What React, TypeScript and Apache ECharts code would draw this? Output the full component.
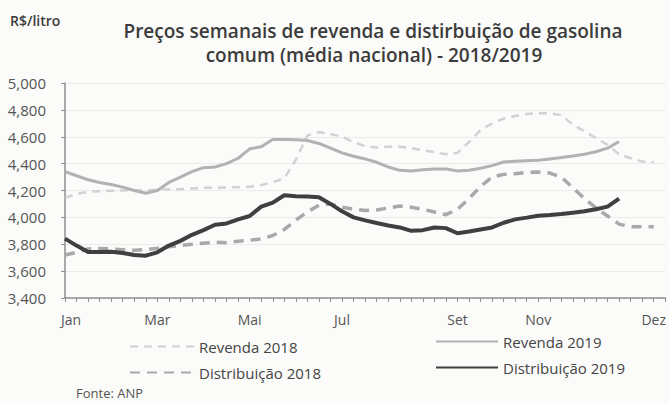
import React, { useEffect, useRef } from "react";
import * as echarts from "echarts";

const weeks = [
  "1", "2", "3", "4", "5", "6", "7", "8", "9", "10", "11", "12", "13", "14", "15", "16", "17", "18",
  "19", "20", "21", "22", "23", "24", "25", "26", "27", "28", "29", "30", "31", "32", "33", "34", "35",
  "36", "37", "38", "39", "40", "41", "42", "43", "44", "45", "46", "47", "48", "49", "50", "51", "52", "53",
];
const monthIndex = [0, 8, 16, 24, 34, 41, 51];
const monthNames = ["Jan", "Mar", "Mai", "Jul", "Set", "Nov", "Dez"];

const revenda2018 = [
  4145, 4175, 4190, 4195, 4198, 4200, 4202, 4202, 4205, 4210, 4210, 4215, 4220, 4220, 4222, 4225,
  4228, 4240, 4262, 4290, 4430, 4610, 4635, 4620, 4600, 4560, 4530, 4520, 4525, 4525, 4515, 4500,
  4485, 4470, 4480, 4560, 4650, 4700, 4735, 4755, 4770, 4775, 4775, 4760, 4690, 4640, 4590, 4540,
  4470, 4440, 4415, 4410,
];
const distribuicao2018 = [
  3720, 3740, 3765, 3768, 3765, 3760, 3755, 3760, 3770, 3782, 3790, 3800, 3808, 3815, 3812, 3822,
  3830, 3840, 3865, 3910, 3980, 4040, 4090, 4100, 4075, 4060, 4052, 4055, 4070, 4085, 4075, 4060,
  4040, 4020, 4060, 4140, 4230, 4300, 4320, 4325, 4335, 4338, 4330, 4300, 4220, 4140, 4070, 4010,
  3950, 3930, 3930, 3930,
];
const revenda2019 = [
  4340, 4310, 4280, 4260, 4245, 4225, 4200, 4180, 4200, 4260, 4300, 4340, 4370, 4375, 4400, 4440,
  4510, 4525, 4580, 4580, 4578, 4572, 4550, 4515, 4480, 4455, 4435, 4410, 4375, 4350, 4345, 4355,
  4360, 4360, 4346, 4350, 4365, 4385, 4412, 4418, 4422, 4425, 4435, 4445, 4456, 4470, 4488, 4515,
  4565,
];
const distribuicao2019 = [
  3842, 3790, 3742, 3742, 3745, 3735, 3720, 3715, 3740, 3790, 3825, 3870, 3905, 3945, 3955, 3985,
  4010, 4080, 4110, 4165, 4158, 4155, 4150, 4100, 4045, 4000, 3978, 3958, 3940, 3925, 3900, 3905,
  3925, 3920, 3882, 3895, 3910, 3925, 3960, 3985, 3998, 4012, 4018, 4025, 4035, 4045, 4060, 4080,
  4140,
];

const FONT = "'Open Sans', 'Noto Sans', sans-serif";
const titleLine1 = "Preços semanais de revenda e distirbuição de gasolina";
const titleLine2 = "comum (média nacional) - 2018/2019";

export default function App() {
  const ref = useRef<HTMLDivElement>(null);

  useEffect(() => {
    if (!ref.current) return;
    const chart = echarts.init(ref.current, undefined, { renderer: "svg" });
    const legendBase = {
      orient: "vertical",
      itemHeight: 14,
      itemGap: 11,
      itemStyle: { opacity: 0 },
      textStyle: { fontFamily: FONT, fontSize: 15, color: "#444" },
    };
    const titleStyle = {
      fontFamily: FONT,
      fontSize: 19,
      fontWeight: 600,
      color: "#3b3b3b",
      lineHeight: 22,
    };
    chart.setOption({
      animation: false,
      backgroundColor: "#fbfbf9",
      textStyle: { fontFamily: FONT },
      title: [
        { text: titleLine1, left: 373, top: 20, textAlign: "center", padding: 0, textStyle: titleStyle },
        { text: titleLine2, left: 374, top: 44, textAlign: "center", padding: 0, textStyle: titleStyle },
        {
          text: "R$/litro",
          left: 5,
          top: 8,
          textStyle: { fontFamily: FONT, fontSize: 14, fontWeight: 600, color: "#3b3b3b" },
        },
        {
          text: "Fonte: ANP",
          left: 71,
          top: 381,
          textStyle: { fontFamily: FONT, fontSize: 13, fontWeight: 400, color: "#555" },
        },
      ],
      legend: [
        {
          ...legendBase,
          data: ["Revenda 2018", "Distribuição 2018"],
          left: 124,
          top: 334,
          itemWidth: 64,
        },
        {
          ...legendBase,
          data: ["Revenda 2019", "Distribuição 2019"],
          left: 430,
          top: 329,
          itemWidth: 62,
        },
      ],
      grid: { left: 65, right: 2, top: 83, bottom: 105 },
      xAxis: {
        type: "category",
        data: weeks,
        boundaryGap: false,
        axisLine: { lineStyle: { color: "#8f8f8f", width: 1.5 } },
        axisTick: { show: true, interval: 0, length: 4, lineStyle: { color: "#8f8f8f" } },
        axisLabel: {
          interval: 0,
          margin: 14,
          fontFamily: FONT,
          fontSize: 14,
          color: "#555",
          formatter: (_v: string, i: number) => {
            const k = monthIndex.indexOf(i);
            if (k < 0) return "";
            return k === 0 ? "{j|" + monthNames[k] + "}" : monthNames[k];
          },
          rich: { j: { padding: [0, 0, 0, 12], fontFamily: FONT, fontSize: 14, color: "#555" } },
        },
        splitLine: { show: false },
      },
      yAxis: {
        type: "value",
        min: 3400,
        max: 5000,
        interval: 200,
        axisLine: { show: true, lineStyle: { color: "#8f8f8f", width: 1.5 } },
        axisTick: { show: true, length: 4, lineStyle: { color: "#8f8f8f" } },
        axisLabel: {
          margin: 19,
          fontFamily: FONT,
          fontSize: 15,
          color: "#555",
          formatter: (v: number) => v.toLocaleString("en-US"),
        },
        splitLine: { show: true, lineStyle: { color: "#ebebea", width: 1 } },
      },
      series: [
        {
          name: "Revenda 2018",
          type: "line",
          data: revenda2018,
          symbol: "none",
          lineStyle: { color: "#d2d2d2", width: 2.5, type: [8, 6] },
          itemStyle: { color: "#d2d2d2" },
          z: 2,
        },
        {
          name: "Distribuição 2018",
          type: "line",
          data: distribuicao2018,
          symbol: "none",
          lineStyle: { color: "#a9a9a9", width: 3.5, type: [10, 7] },
          itemStyle: { color: "#a9a9a9" },
          z: 2,
        },
        {
          name: "Revenda 2019",
          type: "line",
          data: revenda2019,
          symbol: "none",
          lineStyle: { color: "#b2b2b2", width: 3 },
          itemStyle: { color: "#b2b2b2" },
          z: 3,
        },
        {
          name: "Distribuição 2019",
          type: "line",
          data: distribuicao2019,
          symbol: "none",
          lineStyle: { color: "#3f3f3f", width: 4 },
          itemStyle: { color: "#3f3f3f" },
          z: 4,
        },
      ],
    });
    return () => chart.dispose();
  }, []);

  return (
    <div
      ref={ref}
      style={{ position: "fixed", left: 0, top: 0, width: 669, height: 403 }}
    />
  );
}
